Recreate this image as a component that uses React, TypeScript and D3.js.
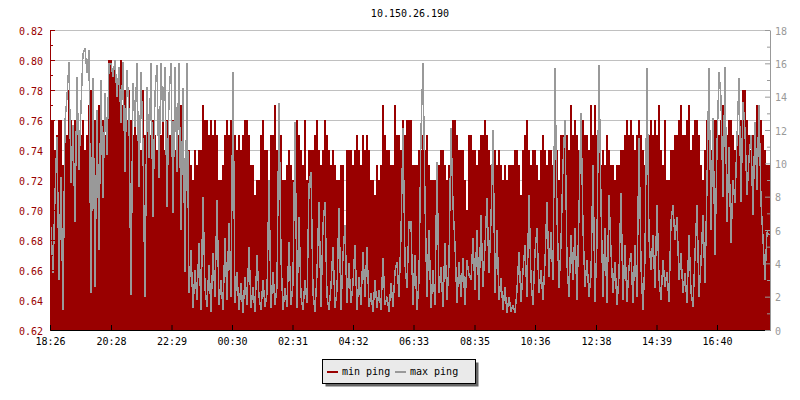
import * as React from 'react';
import * as d3 from 'd3';

const chartTitle = '10.150.26.190';
const timeLabels = ['18:26', '20:28', '22:29', '00:30', '02:31', '04:32', '06:33', '08:35', '10:36', '12:38', '14:39', '16:40'];
const leftLabels = ['0.62', '0.64', '0.66', '0.68', '0.70', '0.72', '0.74', '0.76', '0.78', '0.80', '0.82'];
const rightLabels = ['0', '2', '4', '6', '8', '10', '12', '14', '16', '18'];
const seriesNames = ['min ping', 'max ping'];
const sampleMinutes = 4;

// min ping (left axis), one sample every 4 minutes
const minPing = [
  0.76, 0.76, 0.74, 0.75, 0.76, 0.76, 0.73, 0.76, 0.75, 0.78, 0.76, 0.75, 0.76, 0.76, 0.74, 0.75, 0.76, 0.74, 0.75, 0.77, 0.78, 0.75, 0.76, 0.74, 0.77, 0.75, 0.76, 0.75, 0.76, 0.80,
  0.80, 0.79, 0.80, 0.78, 0.79, 0.80, 0.77, 0.78, 0.76, 0.78, 0.76, 0.75, 0.77, 0.75, 0.76, 0.74, 0.78, 0.75, 0.76, 0.74, 0.75, 0.76, 0.75, 0.74, 0.76, 0.75, 0.77, 0.74, 0.76, 0.75,
  0.75, 0.76, 0.74, 0.76, 0.75, 0.77, 0.74, 0.73, 0.73, 0.74, 0.73, 0.72, 0.74, 0.73, 0.74, 0.74, 0.77, 0.76, 0.76, 0.75, 0.76, 0.75, 0.76, 0.75, 0.72, 0.72, 0.73, 0.75, 0.76, 0.75,
  0.76, 0.75, 0.75, 0.74, 0.75, 0.74, 0.75, 0.76, 0.76, 0.75, 0.73, 0.73, 0.71, 0.72, 0.72, 0.75, 0.76, 0.74, 0.74, 0.72, 0.75, 0.75, 0.77, 0.74, 0.71, 0.75, 0.72, 0.72, 0.73, 0.74,
  0.73, 0.72, 0.73, 0.76, 0.75, 0.74, 0.73, 0.76, 0.72, 0.74, 0.74, 0.74, 0.75, 0.76, 0.74, 0.73, 0.74, 0.76, 0.75, 0.74, 0.73, 0.74, 0.73, 0.72, 0.72, 0.73, 0.73, 0.68, 0.74, 0.74,
  0.74, 0.73, 0.74, 0.75, 0.74, 0.73, 0.75, 0.74, 0.75, 0.74, 0.72, 0.72, 0.71, 0.73, 0.72, 0.73, 0.77, 0.75, 0.74, 0.74, 0.73, 0.73, 0.77, 0.75, 0.75, 0.74, 0.76, 0.75, 0.76, 0.76,
  0.76, 0.73, 0.73, 0.73, 0.74, 0.74, 0.75, 0.74, 0.75, 0.73, 0.72, 0.72, 0.72, 0.73, 0.73, 0.74, 0.74, 0.73, 0.72, 0.73, 0.73, 0.76, 0.76, 0.75, 0.74, 0.74, 0.74, 0.72, 0.70, 0.75,
  0.75, 0.74, 0.74, 0.73, 0.74, 0.75, 0.75, 0.76, 0.75, 0.74, 0.73, 0.72, 0.74, 0.73, 0.74, 0.73, 0.72, 0.73, 0.72, 0.73, 0.73, 0.73, 0.74, 0.74, 0.73, 0.71, 0.74, 0.75, 0.76, 0.74,
  0.73, 0.74, 0.74, 0.73, 0.72, 0.74, 0.75, 0.74, 0.73, 0.74, 0.74, 0.73, 0.74, 0.74, 0.72, 0.75, 0.75, 0.76, 0.75, 0.74, 0.77, 0.75, 0.76, 0.75, 0.74, 0.73, 0.76, 0.75, 0.75, 0.74,
  0.77, 0.75, 0.77, 0.75, 0.74, 0.73, 0.74, 0.73, 0.75, 0.74, 0.73, 0.73, 0.72, 0.73, 0.73, 0.74, 0.74, 0.75, 0.76, 0.75, 0.76, 0.75, 0.74, 0.75, 0.76, 0.75, 0.74, 0.73, 0.74, 0.75,
  0.76, 0.75, 0.76, 0.75, 0.77, 0.74, 0.73, 0.76, 0.72, 0.72, 0.74, 0.74, 0.75, 0.75, 0.76, 0.77, 0.75, 0.75, 0.76, 0.77, 0.74, 0.75, 0.76, 0.76, 0.75, 0.73, 0.72, 0.74, 0.76, 0.75,
  0.74, 0.75, 0.76, 0.76, 0.75, 0.76, 0.77, 0.76, 0.75, 0.76, 0.76, 0.75, 0.74, 0.75, 0.75, 0.76, 0.78, 0.78, 0.76, 0.75, 0.74, 0.75, 0.75, 0.77, 0.74, 0.76, 0.75, 0.74, 0.73, 0.73,
];

// max ping (right axis), same sampling
const maxPing = [
  6.2, 3.4, 8.1, 11.6, 3.0, 9.2, 1.2, 12.5, 14.0, 16.1, 8.8, 12.3, 6.5, 15.2, 9.6, 13.4, 16.6, 16.9, 15.4, 16.8, 2.2, 15.1, 2.6, 13.2, 4.8, 15.0, 7.9, 14.2, 10.5, 16.0,
  16.0, 15.2, 16.2, 14.0, 15.8, 12.4, 16.1, 9.5, 15.6, 13.0, 2.1, 14.8, 12.2, 16.0, 8.6, 15.5, 11.0, 2.0, 14.6, 10.3, 16.0, 6.8, 14.2, 15.9, 9.1, 16.0, 12.5, 15.8, 7.4, 14.0,
  16.0, 7.0, 15.8, 9.5, 16.0, 6.0, 14.5, 3.5, 16.0, 2.2, 4.8, 1.3, 3.6, 1.8, 5.2, 1.2, 8.0, 2.5, 1.4, 3.9, 1.1, 4.6, 2.0, 7.8, 1.5, 3.0, 1.2, 5.5, 1.8, 6.4,
  2.0, 15.5, 1.6, 3.5, 1.2, 2.8, 1.0, 3.2, 1.5, 5.0, 1.3, 2.6, 1.1, 4.5, 2.0, 1.2, 3.0, 1.4, 2.2, 9.0, 1.3, 3.5, 1.5, 2.6, 13.6, 4.3, 1.2, 2.5, 1.4, 5.3,
  1.5, 2.8, 12.5, 1.3, 6.8, 2.0, 1.2, 3.0, 1.6, 8.7, 9.5, 2.2, 1.1, 3.4, 7.7, 1.4, 6.3, 7.7, 2.0, 1.2, 2.6, 5.0, 1.3, 2.4, 7.3, 1.2, 4.5, 6.3, 1.6, 4.0,
  1.6, 2.8, 5.1, 1.2, 3.2, 1.5, 4.7, 2.0, 5.0, 1.4, 2.2, 1.1, 3.0, 1.3, 2.4, 1.2, 4.3, 1.5, 2.0, 1.1, 2.8, 1.4, 3.5, 4.1, 2.0, 5.7, 12.1, 4.0, 2.5, 6.5,
  6.5, 1.5, 4.5, 1.2, 3.0, 11.9, 16.0, 7.7, 2.0, 6.0, 1.3, 3.6, 1.5, 10.1, 2.2, 3.8, 1.4, 5.2, 1.8, 4.0, 12.1, 7.5, 5.1, 1.6, 4.1, 2.0, 4.3, 1.5, 4.2, 3.3,
  3.0, 5.5, 2.4, 6.0, 1.8, 6.9, 2.6, 5.0, 7.9, 3.4, 6.6, 12.0, 2.2, 6.0, 1.8, 3.1, 1.2, 2.6, 1.0, 2.0, 1.1, 1.5, 1.0, 2.4, 4.7, 1.7, 3.5, 5.1, 2.0, 8.1,
  3.0, 1.5, 4.7, 6.1, 2.2, 3.6, 1.8, 4.1, 7.7, 3.2, 5.9, 3.0, 15.7, 6.9, 2.5, 5.2, 9.9, 12.6, 4.0, 2.0, 5.7, 3.0, 6.1, 1.8, 7.0, 13.0, 6.1, 2.6, 4.2, 2.0,
  3.3, 9.9, 1.7, 5.3, 15.9, 7.5, 2.0, 6.1, 1.6, 8.1, 4.7, 2.2, 4.1, 1.5, 3.3, 8.2, 1.8, 5.1, 1.7, 3.8, 4.6, 1.6, 5.1, 2.0, 11.5, 3.8, 1.2, 4.3, 15.7, 5.5,
  3.6, 5.7, 2.5, 7.5, 3.1, 1.8, 4.2, 2.6, 3.5, 1.7, 6.5, 7.5, 5.4, 6.8, 3.0, 4.6, 2.2, 3.4, 1.6, 5.7, 2.3, 1.4, 4.5, 7.5, 2.0, 4.1, 6.9, 2.8, 8.7, 15.7,
  6.0, 12.7, 4.5, 10.9, 15.5, 13.9, 8.0, 15.8, 6.5, 11.0, 5.2, 9.0, 7.6, 11.5, 15.1, 7.7, 13.7, 12.0, 8.1, 10.3, 11.7, 6.9, 12.5, 8.4, 13.5, 7.7, 5.5, 3.0, 5.9, 5.7,
];

const RED = '#990000';
const GRAY = '#999999';
const FONT = "'DejaVu Sans Mono', monospace";

// minutes since first label, wrapping past midnight
const labelMinutes = (labels: string[]) => {
  const toMin = (s: string) => +s.slice(0, 2) * 60 + +s.slice(3, 5);
  const start = toMin(labels[0]);
  return labels.map((s) => (toMin(s) - start + 1440) % 1440);
};

const renderPingChart = (node: SVGSVGElement) => {
  const svg = d3.select(node);
  svg.selectAll('*').remove();

  const left = 50;
  const right = 770;
  const top = 30;
  const bottom = 330;

  const x = d3.scaleLinear().domain([0, 1440]).range([left, right]);
  const yMin = d3.scaleLinear().domain([0.62, 0.82]).range([bottom, top]);
  const yMax = d3.scaleLinear().domain([0, 18]).range([bottom, top]);

  const leftTicks = leftLabels.map(Number);
  const rightTicks = rightLabels.map(Number);
  const leftMinor = leftTicks.slice(1).map((v) => v - 0.01);
  const rightMinor = rightTicks.slice(1).map((v) => v - 1);

  svg.append('rect').attr('width', 800).attr('height', 400).attr('fill', '#fff');

  // title
  svg.append('text')
    .attr('x', (left + right) / 2)
    .attr('y', 17)
    .attr('text-anchor', 'middle')
    .attr('font-family', FONT)
    .attr('font-size', 10)
    .text(chartTitle);

  // horizontal grid
  svg.append('g')
    .attr('transform', `translate(${left},0)`)
    .call(d3.axisLeft(yMin).tickValues(leftTicks).tickSize(-(right - left)).tickFormat(() => ''))
    .call((g) => g.select('.domain').remove())
    .selectAll('line')
    .attr('stroke', '#c0c0c0');

  // min ping area
  const area = d3.area<number>()
    .x((d, i) => x(i * sampleMinutes))
    .y0(bottom)
    .y1((d) => yMin(d))
    .curve(d3.curveStepAfter);
  svg.append('path')
    .datum([...minPing, minPing[minPing.length - 1]])
    .attr('d', area)
    .attr('fill', RED)
    .attr('shape-rendering', 'crispEdges');

  // max ping line, aliased so the dense zigzag reads as solid strokes
  const line = d3.line<number>()
    .x((d, i) => x(i * sampleMinutes + sampleMinutes / 2))
    .y((d) => yMax(d));
  svg.append('path')
    .datum(maxPing)
    .attr('d', line)
    .attr('fill', 'none')
    .attr('stroke', GRAY)
    .attr('stroke-width', 1.5)
    .attr('stroke-linejoin', 'bevel')
    .attr('shape-rendering', 'crispEdges');

  const styleAxis = (g, color) => {
    g.attr('font-family', FONT).attr('font-size', 10);
    g.select('.domain').attr('stroke', color);
    g.selectAll('.tick line').attr('stroke', color);
    g.selectAll('.tick text').attr('fill', color);
  };

  // left axis
  svg.append('g')
    .attr('transform', `translate(${left},0)`)
    .call(d3.axisLeft(yMin).tickValues(leftMinor).tickSizeInner(-3).tickSizeOuter(0).tickFormat(() => ''))
    .call((g) => g.select('.domain').remove())
    .selectAll('line').attr('stroke', RED);
  svg.append('g')
    .attr('transform', `translate(${left},0)`)
    .call(d3.axisLeft(yMin).tickValues(leftTicks).tickSizeInner(-5).tickSizeOuter(0).tickPadding(7)
      .tickFormat((d, i) => leftLabels[i]))
    .call((g) => styleAxis(g, RED))
    .selectAll('.tick text').attr('dy', '0.4em');

  // right axis
  svg.append('g')
    .attr('transform', `translate(${right},0)`)
    .call(d3.axisRight(yMax).tickValues(rightMinor).tickSizeInner(-3).tickSizeOuter(0).tickFormat(() => ''))
    .call((g) => g.select('.domain').remove())
    .selectAll('line').attr('stroke', GRAY);

  // bottom axis
  svg.append('g')
    .attr('transform', `translate(0,${bottom})`)
    .call(d3.axisBottom(x).tickValues(labelMinutes(timeLabels)).tickSizeInner(-5).tickSizeOuter(0).tickPadding(8)
      .tickFormat((d, i) => timeLabels[i]))
    .call((g) => styleAxis(g, '#000'));

  svg.append('g')
    .attr('transform', `translate(${right},0)`)
    .call(d3.axisRight(yMax).tickValues(rightTicks).tickSizeInner(-5).tickSizeOuter(0).tickPadding(5)
      .tickFormat((d, i) => rightLabels[i]))
    .call((g) => styleAxis(g, GRAY))
    .selectAll('.tick text').attr('dy', '0.4em');

  // legend
  const legend = svg.append('g').attr('transform', 'translate(322,359)');
  legend.append('rect')
    .attr('x', 3.5).attr('y', 3.5).attr('width', 153).attr('height', 24)
    .attr('fill', '#666');
  legend.append('rect')
    .attr('x', 0.5).attr('y', 0.5).attr('width', 153).attr('height', 24)
    .attr('fill', '#eaeaea').attr('stroke', '#000');
  const items = [
    { name: seriesNames[0], color: RED, offset: 5 },
    { name: seriesNames[1], color: GRAY, offset: 73 },
  ];
  items.forEach((item) => {
    legend.append('line')
      .attr('x1', item.offset).attr('x2', item.offset + 11)
      .attr('y1', 13).attr('y2', 13)
      .attr('stroke', item.color).attr('stroke-width', 2);
    legend.append('text')
      .attr('x', item.offset + 15).attr('y', 16)
      .attr('font-family', FONT).attr('font-size', 10)
      .text(item.name);
  });
};

const App = () => {
  const ref = React.useRef<SVGSVGElement>(null);

  React.useEffect(() => {
    if (ref.current) renderPingChart(ref.current);
  }, []);

  return (
    <svg
      ref={ref}
      width={800}
      height={400}
      style={{ position: 'absolute', left: 0, top: 0 }}
    />
  );
};

export default App;
